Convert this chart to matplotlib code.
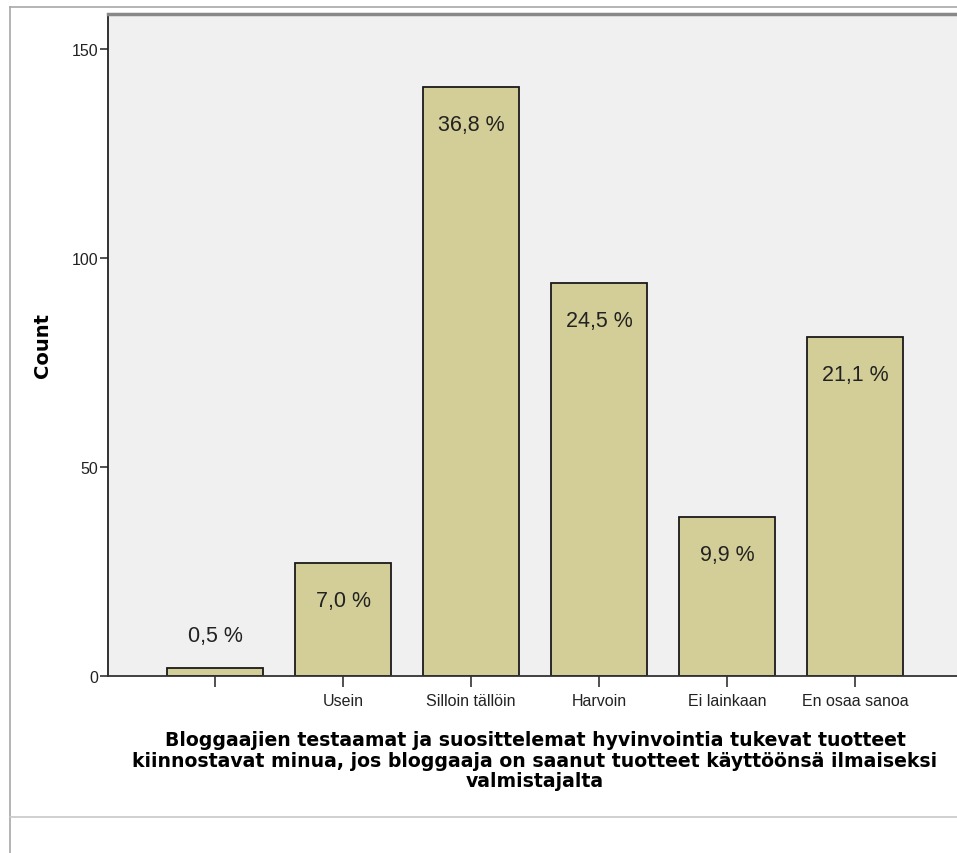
import matplotlib
matplotlib.use("Agg")
import matplotlib.pyplot as plt
from matplotlib.lines import Line2D

plt.rcParams['font.family'] = ['Liberation Sans', 'DejaVu Sans']

# vastausvaihtoehdot ja lukumäärät
categories = ['', 'Usein', 'Silloin tällöin', 'Harvoin', 'Ei lainkaan', 'En osaa sanoa']
counts = [2, 27, 141, 94, 38, 81]
pct_labels = ['0,5 %', '7,0 %', '36,8 %', '24,5 %', '9,9 %', '21,1 %']
yticks = [0, 50, 100, 150]
xtitle = ('Bloggaajien testaamat ja suosittelemat hyvinvointia tukevat tuotteet\n'
          'kiinnostavat minua, jos bloggaaja on saanut tuotteet käyttöönsä ilmaiseksi\n'
          'valmistajalta')

W, H = 957, 854
fig = plt.figure(figsize=(W / 100, H / 100), dpi=100)
fig.patch.set_facecolor('white')

ax = fig.add_axes([108 / W, 1 - 677 / H, (962 - 108) / W, (677 - 15) / H])
ax.set_facecolor('#F0F0F0')

x = list(range(len(categories)))
ax.bar(x, counts, width=0.75, color='#D3CE97', edgecolor='#1a1a1a', linewidth=1.3, zorder=2)

# prosenttiosuudet palkkien sisään (tai yläpuolelle jos palkki on matala)
for xi, c, lab in zip(x, counts, pct_labels):
    if c > 15:
        ax.annotate(lab, (xi, c), xytext=(0, -27), textcoords='offset points',
                    ha='center', va='center', fontsize=15.5, color='#222222', zorder=3)
    else:
        ax.annotate(lab, (xi, c), xytext=(0, 23), textcoords='offset points',
                    ha='center', va='center', fontsize=15.5, color='#222222', zorder=3)

ax.set_xlim(-0.836, 5.836)
ax.set_ylim(0, 158.4)
ax.set_xticks(x)
ax.set_xticklabels(categories, fontsize=11.5, color='#222222')
ax.set_yticks(yticks)
ax.set_yticklabels([str(t) for t in yticks], fontsize=11.5, color='#222222')
ax.tick_params(axis='x', length=8, width=1.2, color='#333333', pad=4)
ax.tick_params(axis='y', length=6, width=1.2, color='#333333', pad=1)

ax.spines['right'].set_visible(False)
ax.spines['left'].set_color('#222222')
ax.spines['left'].set_linewidth(1.3)
ax.spines['bottom'].set_color('#333333')
ax.spines['bottom'].set_linewidth(1.3)
ax.spines['top'].set_color('#888888')
ax.spines['top'].set_linewidth(2.5)

ax.set_ylabel('Count', fontsize=14, fontweight='bold', family='DejaVu Sans', labelpad=14)
ax.set_xlabel(xtitle, fontsize=13.6, fontweight='bold', family='DejaVu Sans',
              linespacing=1.12, labelpad=16)

# ulkoreunan viivat
border = '#A8A8A8'
fig.add_artist(Line2D([10 / W, 10 / W], [0, 1 - 8 / H], color=border, lw=1.2))
fig.add_artist(Line2D([10 / W, 1], [1 - 8 / H, 1 - 8 / H], color=border, lw=1.2))
fig.add_artist(Line2D([10 / W, 1], [1 - 818 / H, 1 - 818 / H], color='#C8C8C8', lw=1.2))

fig.savefig('out.png', dpi=100)
